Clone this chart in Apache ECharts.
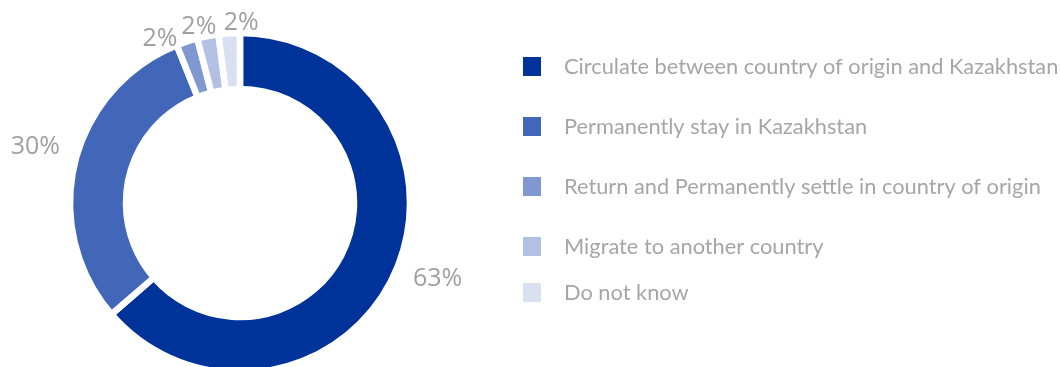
<!DOCTYPE html>
<html>
<head>
<meta charset="utf-8">
<script src="https://cdn.jsdelivr.net/npm/echarts@6/dist/echarts.min.js"></script>
<style>
  html, body { margin: 0; padding: 0; background: #ffffff; }
  #chart { width: 1060px; height: 367px; }
</style>
</head>
<body>
<div id="chart"></div>
<script>
// Intentions of respondents: share of answers (percent)
const categories = [
  'Circulate between country of origin and Kazakhstan',
  'Permanently stay in Kazakhstan',
  'Return and Permanently settle in country of origin',
  'Migrate to another country',
  'Do not know'
];
const shares = [63, 30, 2, 2, 2];
const sliceColors = ['#003399', '#4267B8', '#7F98D0', '#B2C1E3', '#D9E0F1'];

// small nudges so the three narrow-slice labels sit side by side
const labelNudge = [[6, 2], [-2, -14], [-2, 5], [15, -1], [35, -2]];

const chart = echarts.init(document.getElementById('chart'), null, { renderer: 'canvas' });

const legendText = {
  fontFamily: 'Lato, "Open Sans", sans-serif',
  fontSize: 21.8,
  color: '#a6a6a6',
  lineHeight: 21,
  padding: [0, 0, 0, 17]
};

chart.setOption({
  animation: false,
  color: sliceColors,
  legend: [
    {
      orient: 'vertical',
      left: 521,
      top: 55,
      padding: 0,
      icon: 'rect',
      itemWidth: 20,
      itemHeight: 21,
      itemGap: 37,
      textStyle: legendText,
      data: categories.slice(0, 4)
    },
    {
      orient: 'vertical',
      left: 521,
      top: 281,
      padding: 0,
      icon: 'rect',
      itemWidth: 20,
      itemHeight: 21,
      textStyle: legendText,
      data: categories.slice(4)
    }
  ],
  series: [{
    type: 'pie',
    center: [240, 203],
    radius: [114, 170],
    startAngle: 90,
    clockwise: true,
    avoidLabelOverlap: false,
    itemStyle: { borderColor: '#ffffff', borderWidth: 6.5 },
    label: {
      show: true,
      position: 'outside',
      formatter: '{c}%',
      fontFamily: '"Open Sans", sans-serif',
      fontSize: 25,
      color: '#a0a0a0'
    },
    labelLine: { show: false, length: 8, length2: 0 },
    labelLayout: (params) => ({
      hideOverlap: false,
      dx: labelNudge[params.dataIndex][0],
      dy: labelNudge[params.dataIndex][1]
    }),
    emphasis: { disabled: true },
    data: categories.map((name, i) => ({ name, value: shares[i] }))
  }]
});
</script>
</body>
</html>
